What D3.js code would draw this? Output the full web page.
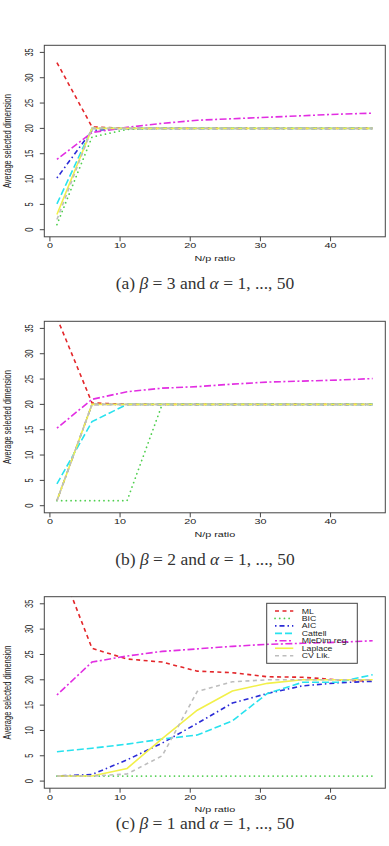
<!DOCTYPE html>
<html>
<head>
<meta charset="utf-8">
<script src="https://cdn.jsdelivr.net/npm/d3@7/dist/d3.min.js"></script>
<style>
  body { margin: 0; background: #fff; }
  text { font-family: "Liberation Sans", Arial, sans-serif; fill: #222; }
  .cap { font-family: "Liberation Serif", "DejaVu Serif", serif; fill: #333; }
</style>
</head>
<body>
<div id="content"></div>
<script>
'use strict';
//////////////////// input data
const ratio   = [1, 6, 11, 16, 21, 26, 31, 36, 41, 46];
const methods = ['ML', 'BIC', 'AIC', 'Cattell', 'MleDim reg.', 'Laplace', 'CV Lik.'];
const xTicks  = [0, 10, 20, 30, 40];
const yTicks  = [0, 5, 10, 15, 20, 25, 30, 35];

// one row per method, same order as `methods`
const beta3 = [
    [33.0, 20.3, 20, 20, 20, 20, 20, 20, 20, 20],
    [1.0, 18.3, 19.8, 20, 20, 20, 20, 20, 20, 20],
    [10.2, 19.6, 20, 20, 20, 20, 20, 20, 20, 20],
    [5.1, 20, 20, 20, 20, 20, 20, 20, 20, 20],
    [13.9, 19.2, 20.2, 21.0, 21.6, 21.9, 22.2, 22.5, 22.8, 23.0],
    [3.0, 20, 20, 20, 20, 20, 20, 20, 20, 20],
    [2.0, 20, 20, 20, 20, 20, 20, 20, 20, 20]
];
const beta2 = [
    [37.1, 20.3, 20, 20, 20, 20, 20, 20, 20, 20],
    [1, 1, 1, 20, 20, 20, 20, 20, 20, 20],
    [1, 20, 20, 20, 20, 20, 20, 20, 20, 20],
    [4.3, 16.6, 20, 20, 20, 20, 20, 20, 20, 20],
    [15.3, 21.0, 22.5, 23.2, 23.5, 24.0, 24.4, 24.6, 24.8, 25.1],
    [1, 20, 20, 20, 20, 20, 20, 20, 20, 20],
    [1, 20, 20, 20, 20, 20, 20, 20, 20, 20]
];
const beta1 = [
    [44.0, 26.2, 24.1, 23.5, 21.7, 21.4, 20.6, 20.5, 20.0, 19.7],
    [1, 1, 1, 1, 1, 1, 1, 1, 1, 1],
    [1, 1.3, 4.2, 7.5, 11.4, 15.4, 17.3, 18.8, 19.4, 19.7],
    [5.8, 6.5, 7.3, 8.3, 9.1, 11.9, 17.3, 19.5, 19.5, 21.0],
    [17.0, 23.5, 24.7, 25.6, 26.1, 26.6, 27.0, 27.2, 27.4, 27.7],
    [1, 1, 2.5, 8.4, 14.0, 17.8, 19.3, 20.0, 20.0, 20.0],
    [1, 1, 1.4, 5.0, 17.7, 19.6, 20, 20, 20, 20]
];
const panelData = [beta3, beta2, beta1];
const captions = [
    ['(a) ', 'β', ' = 3 and ', 'α', ' = 1, ..., 50'],
    ['(b) ', 'β', ' = 2 and ', 'α', ' = 1, ..., 50'],
    ['(c) ', 'β', ' = 1 and ', 'α', ' = 1, ..., 50']
];

//////////////////// styles per method
const colors = ['#e3262a', '#4fcf4f', '#2b2bd6', '#28e2ee', '#e22ee2', '#f2f04a', '#bdbdbd'];
const dashes = ['4,3.5', '0.1,4.6', '1.5,3,5,3', '7,3', '2,2.5,7,2.5', null, '4,3.5'];
const caps   = ['butt', 'round', 'butt', 'butt', 'butt', 'butt', 'butt'];

//////////////////// drawing area
const W = 389, H = 846;
const boxL = 44.3, boxR = 385.3, boxH = 191.5;
const panelTop = [45.3, 321.3, 596.7];
const capOffset = [52, 52, 41];
const sx = 1.35;   // horizontal stretch of the original figure text

const xScale = d3.scaleLinear().domain([-0.8, 47.8]).range([boxL, boxR]);

const svg = d3.select('#content')
    .append('svg')
        .attr('width', W)
        .attr('height', H);

const line = d3.line();

panelData.forEach((rows, p) => {
    const top = panelTop[p], bottom = top + boxH;
    const yScale = d3.scaleLinear().domain([-1.4, 36.4]).range([bottom, top]);
    const g = svg.append('g');

    g.append('clipPath').attr('id', 'clip' + p)
        .append('rect')
        .attr('x', boxL).attr('y', top)
        .attr('width', boxR - boxL).attr('height', boxH);

    // lines
    g.append('g').attr('clip-path', 'url(#clip' + p + ')')
        .selectAll('path')
        .data(rows)
        .enter()
        .append('path')
        .attr('d', r => line(r.map((v, i) => [xScale(ratio[i]), yScale(v)])))
        .attr('fill', 'none')
        .attr('stroke', (r, i) => colors[i])
        .attr('stroke-width', (r, i) => i === 1 ? 1.7 : 1.6)
        .attr('stroke-linecap', (r, i) => caps[i])
        .attr('stroke-dasharray', (r, i) => dashes[i]);

    // box
    g.append('rect')
        .attr('x', boxL).attr('y', top)
        .attr('width', boxR - boxL).attr('height', boxH)
        .attr('fill', 'none').attr('stroke', '#444').attr('stroke-width', 1);

    // y axis
    g.selectAll('.yt').data(yTicks).enter().append('line')
        .attr('x1', boxL - 4.5).attr('x2', boxL)
        .attr('y1', d => yScale(d)).attr('y2', d => yScale(d))
        .attr('stroke', '#444');
    g.selectAll('.yl').data(yTicks).enter().append('text')
        .attr('transform', d => 'translate(32.7,' + yScale(d) + ') scale(' + sx + ',1) rotate(-90)')
        .attr('text-anchor', 'middle')
        .attr('font-size', 7.5)
        .text(d => d);
    g.append('text')
        .attr('transform', 'translate(11,' + (top + boxH / 2) + ') scale(' + sx + ',1) rotate(-90)')
        .attr('text-anchor', 'middle')
        .attr('font-size', 7.5)
        .text('Average selected dimension');

    // x axis
    g.selectAll('.xt').data(xTicks).enter().append('line')
        .attr('x1', d => xScale(d)).attr('x2', d => xScale(d))
        .attr('y1', bottom).attr('y2', bottom + 4.5)
        .attr('stroke', '#444');
    g.selectAll('.xl').data(xTicks).enter().append('text')
        .attr('transform', d => 'translate(' + xScale(d) + ',' + (bottom + 11.5) + ') scale(' + sx + ',1)')
        .attr('text-anchor', 'middle')
        .attr('font-size', 8)
        .text(d => d);
    g.append('text')
        .attr('transform', 'translate(' + xScale(23.5) + ',' + (bottom + 24) + ') scale(' + sx + ',1)')
        .attr('text-anchor', 'middle')
        .attr('font-size', 8)
        .text('N/p ratio');

    // caption
    const cap = g.append('text')
        .attr('class', 'cap')
        .attr('x', 205).attr('y', bottom + capOffset[p])
        .attr('text-anchor', 'middle')
        .attr('font-size', 17.5);
    cap.selectAll('tspan').data(captions[p]).enter().append('tspan')
        .attr('font-style', (d, i) => (i === 1 || i === 3) ? 'italic' : null)
        .text(d => d);

    // legend only on the last panel
    if (p === 2) {
        const lg = g.append('g');
        lg.append('rect')
            .attr('x', 266.7).attr('y', 603.3)
            .attr('width', 90.6).attr('height', 60)
            .attr('fill', 'none').attr('stroke', '#444');
        const rowY = i => 611 + i * 7.45;
        lg.selectAll('line').data(methods).enter().append('line')
            .attr('x1', 275).attr('x2', 293.3)
            .attr('y1', (d, i) => rowY(i)).attr('y2', (d, i) => rowY(i))
            .attr('stroke', (d, i) => colors[i])
            .attr('stroke-width', (d, i) => i === 1 ? 1.7 : 1.6)
            .attr('stroke-linecap', (d, i) => caps[i])
            .attr('stroke-dasharray', (d, i) => dashes[i]);
        lg.selectAll('text').data(methods).enter().append('text')
            .attr('transform', (d, i) => 'translate(301.7,' + (rowY(i) + 2.5) + ') scale(' + sx + ',1)')
            .attr('font-size', 6.5)
            .text(d => d);
    }
});
</script>
</body>
</html>
